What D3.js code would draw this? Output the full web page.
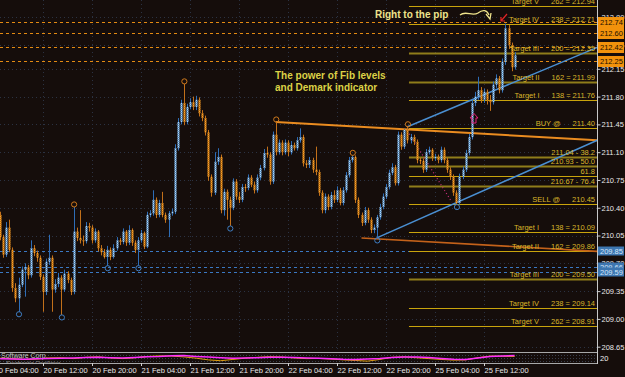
<!DOCTYPE html>
<html><head><meta charset="utf-8">
<script src="https://cdn.jsdelivr.net/npm/d3@7"></script>
<style>
html,body{margin:0;padding:0;background:#150d0b;overflow:hidden;}
svg{display:block;}
</style></head><body>
<svg id="c" width="625" height="377"></svg>
<script>
// ---------------- DATA ----------------
const firstIndex = 2;          // bar index of first candle (30-min bars, 0 = 20 Feb 04:00)
const firstOpen = 210.31;
const closes = [
210.03,209.81,210.15,209.87,209.39,209.26,209.43,209.62,209.65,209.55,
209.89,209.83,209.77,209.53,209.34,209.72,209.77,209.37,209.44,209.52,
209.37,209.57,209.49,209.34,210.10,210.02,209.99,209.98,210.17,210.15,
209.99,210.10,209.89,209.84,209.78,209.87,209.78,209.89,209.99,209.97,
210.10,209.96,210.12,209.96,209.87,209.99,210.08,209.91,210.31,210.33,
210.50,210.31,210.46,210.31,210.25,210.33,210.35,211.15,211.48,211.72,
211.48,211.67,211.73,211.67,211.76,211.59,211.53,211.35,210.79,210.59,
210.98,211.04,210.37,210.60,210.50,210.40,210.73,210.54,210.50,210.66,
210.65,210.78,210.69,210.62,210.78,210.90,211.09,211.07,210.73,211.32,
211.10,211.22,211.10,211.22,211.10,211.19,211.15,211.25,211.29,210.96,
210.94,211.00,210.88,210.85,210.59,210.37,210.54,210.41,210.56,210.50,
210.62,210.46,210.62,210.81,211.00,211.04,210.50,210.31,210.21,210.37,
210.25,210.12,210.15,210.28,210.41,210.54,210.66,210.84,210.91,210.71,
211.32,211.17,211.38,211.25,211.29,211.23,211.00,210.99,210.88,211.10,
211.13,211.03,211.04,211.00,211.13,211.00,210.88,210.79,210.59,210.46,
210.79,210.88,211.09,211.29,211.72,211.80,211.88,211.76,211.86,211.76,
211.73,211.95,212.03,211.88,212.24,212.66,212.45,212.17,212.32];
const highs = [
210.35,210.06,210.22,210.25,209.90,209.45,209.52,209.66,209.70,209.68,
209.99,209.93,209.86,209.80,209.56,209.76,210.06,209.80,209.50,209.58,
209.55,209.62,209.60,209.52,210.41,210.15,210.37,210.05,210.22,210.21,
210.18,210.14,210.12,209.93,209.88,209.92,209.90,209.94,210.03,210.02,
210.14,210.12,210.18,210.14,209.99,210.03,210.12,210.10,210.35,210.37,
210.62,210.53,210.50,210.60,210.34,210.36,210.39,211.20,211.53,211.76,
211.96,211.71,211.78,211.80,211.81,211.79,211.63,211.56,211.38,210.82,
211.10,211.15,211.07,210.64,210.63,210.54,210.77,210.76,210.60,210.70,
210.70,210.82,210.81,210.73,210.82,210.94,211.14,211.17,211.10,211.36,
211.48,211.26,211.25,211.26,211.25,211.24,211.22,211.29,211.40,211.32,
211.00,211.04,211.03,211.17,210.88,210.62,210.58,210.57,210.60,210.62,
210.67,210.65,210.66,210.85,211.04,211.06,211.06,210.53,210.34,210.41,
210.40,210.28,210.19,210.31,210.45,210.58,210.70,210.88,210.96,210.94,
211.36,211.35,211.39,211.42,211.33,211.32,211.26,211.03,211.02,211.14,
211.17,211.15,211.08,211.07,211.17,211.16,211.03,210.91,210.82,210.62,
210.83,210.92,211.13,211.33,211.76,211.86,212.05,211.92,211.90,211.89,
211.82,211.99,212.08,212.06,212.28,212.72,212.70,212.48,212.36];
const lows = [
209.99,209.77,209.78,209.84,209.34,209.21,209.09,209.40,209.28,209.50,
209.52,209.79,209.72,209.49,209.09,209.30,209.68,209.09,209.33,209.40,
209.05,209.34,209.45,209.30,209.31,209.98,209.95,209.92,209.95,210.10,
209.95,209.96,209.85,209.80,209.76,209.67,209.74,209.76,209.86,209.93,
209.94,209.92,209.93,209.92,209.83,209.67,209.96,209.88,209.89,210.28,
210.30,210.27,210.28,210.28,210.21,210.03,210.30,210.32,211.12,211.45,
211.44,211.45,211.64,211.63,211.63,211.55,211.49,211.31,210.74,210.54,
210.56,210.94,210.33,210.30,210.25,210.17,210.37,210.50,210.46,210.47,
210.60,210.62,210.66,210.58,210.59,210.75,210.87,211.03,210.69,210.70,
211.06,211.07,211.06,211.07,211.05,211.07,211.12,211.12,211.22,210.92,
210.90,210.90,210.84,210.81,210.55,210.33,210.33,210.37,210.38,210.46,
210.47,210.43,210.43,210.59,210.78,210.97,210.46,210.27,210.17,210.18,
210.21,210.08,210.08,210.02,210.25,210.38,210.51,210.63,210.81,210.68,
210.68,211.13,211.14,211.21,211.21,211.19,210.96,210.95,210.84,210.85,
211.07,210.99,210.99,210.96,210.97,210.96,210.84,210.75,210.55,210.44,
210.44,210.76,210.85,211.06,211.26,211.68,211.76,211.72,211.72,211.70,
211.62,211.70,211.91,211.84,211.85,212.20,212.40,212.12,212.14];

// Demark points (bar indexes)
const demarkHighs = [26, 62, 92, 117, 135];
const demarkLows  = [8, 22, 37, 47, 77, 125, 151];

// Trend lines: [barIndex, price] pairs
const blueTrends   = [[[125, 210.02], [197, 211.25]], [[135, 211.42], [197, 212.42]]];
const orangeTrends = [[[92, 211.48], [197, 211.25]], [[120, 210.02], [197, 209.85]]];
const projection   = [[135, 211.37], [149.5, 210.47]];

// Fib / target levels
const fibStart  = 135.5;
const fibNames  = ["Target V","Target IV","Target III","Target II","Target I","BUY @","","","","","SELL @","Target I","Target II","Target III","Target IV","Target V"];
const fibTexts  = ["262 = 212.94","238 = 212.71","200 = 212.35","162 = 211.99","138 = 211.76","211.40","211.04 - 38.2","210.93 - 50.0","61.8","210.67 - 76.4","210.45","138 = 210.09","162 = 209.86","200 = 209.50","238 = 209.14","262 = 208.91"];
const fibPrices = [212.94,212.71,212.35,211.99,211.76,211.40,211.04,210.93,210.80,210.67,210.45,210.09,209.86,209.50,209.14,208.91];

// Horizontal price lines with right-side tags
const orangeLevels = [212.74, 212.60, 212.42, 212.25];
const blueLevels   = [209.85, 209.66, 209.59];

// Axis ticks
const yTicks = [212.80,212.45,212.15,211.80,211.45,211.10,210.75,210.40,210.05,209.70,209.35,209.00,208.65];
const xTickIdx = [0,16,32,48,64,80,96,112,128,144,160];
const xLabels = ["20 Feb 04:00","20 Feb 12:00","20 Feb 20:00","21 Feb 04:00","21 Feb 12:00","21 Feb 20:00","22 Feb 04:00","22 Feb 12:00","22 Feb 20:00","25 Feb 04:00","25 Feb 12:00"];

// Indicator subwindow (every 4 bars from bar 2)
const indStep = 4;
const indMain = [39,36,33,38,42,44,48,52,56,50,46,54,62,66,74,76,66,58,50,45,47,51,55,56,52,48,44,38,32,30,34,40,52,58,60,52,42,32,30,48,66,72,76];
const indSignal = [45,40,30,35,48,50,40,55,60,48,40,50,65,72,70,60,45,25,15,30,45,55,62,58,48,40,42,35,25,18,10,30,55,60,50,40,30,22,25,50,70,68,65];

// ---------------- DRAW ----------------
const svg = d3.select('#c');
const FONT = "'Liberation Sans', Arial, sans-serif";
const plotR = 597, mainBottom = 352, panelBottom = 363;
const x = d3.scaleLinear().domain([0,160]).range([-6,484]);
const y = d3.scaleLinear().domain([208.65,212.80]).range([346.7,17.2]);
const py = d3.scaleLinear().domain([0,100]).range([362,353.5]);

svg.append('rect').attr('width',625).attr('height',377).attr('fill','#150d0b');

const defs = svg.append('defs');
function checker(id, a, b){
  const p = defs.append('pattern').attr('id',id).attr('patternUnits','userSpaceOnUse').attr('width',2).attr('height',2);
  p.append('rect').attr('width',2).attr('height',2).attr('fill',a);
  p.append('rect').attr('width',1).attr('height',1).attr('fill',b);
  p.append('rect').attr('x',1).attr('y',1).attr('width',1).attr('height',1).attr('fill',b);
}
checker('bull','#4f8fcf','#b4d8f4');
checker('bear','#c86e12','#f7a72a');
defs.append('clipPath').attr('id','main').append('rect').attr('x',0).attr('y',0).attr('width',plotR).attr('height',mainBottom);
defs.append('clipPath').attr('id','panel').append('rect').attr('x',0).attr('y',mainBottom).attr('width',plotR).attr('height',panelBottom-mainBottom);

// grid
const grid = svg.append('g').attr('stroke','#2b3242').attr('stroke-dasharray','1,3').attr('stroke-width',1);
yTicks.forEach(t=>grid.append('line').attr('x1',0).attr('x2',plotR).attr('y1',Math.round(y(t))+0.5).attr('y2',Math.round(y(t))+0.5));
xTickIdx.forEach(t=>grid.append('line').attr('x1',Math.round(x(t))+0.5).attr('x2',Math.round(x(t))+0.5).attr('y1',0).attr('y2',mainBottom));

const main = svg.append('g').attr('clip-path','url(#main)');

// horizontal dashed price lines
orangeLevels.forEach(p=>main.append('line').attr('x1',0).attr('x2',plotR).attr('y1',Math.round(y(p))+0.5).attr('y2',Math.round(y(p))+0.5)
  .attr('stroke','#e38a12').attr('stroke-dasharray','3,3'));
blueLevels.forEach(p=>main.append('line').attr('x1',0).attr('x2',plotR).attr('y1',Math.round(y(p))+0.5).attr('y2',Math.round(y(p))+0.5)
  .attr('stroke','#3a78c2').attr('stroke-dasharray','3,3'));

// fib lines
const heavy = new Set([2,3,6,7,9,13]);
fibPrices.forEach((p,k)=>{
  main.append('line').attr('x1',x(fibStart)).attr('x2',plotR)
    .attr('y1',Math.round(y(p))+0.5).attr('y2',Math.round(y(p))+0.5)
    .attr('stroke', heavy.has(k)?'#8f7d1a':'#c9a40c').attr('stroke-width', heavy.has(k)?2:1);
});

// trend lines
orangeTrends.forEach((l,k)=>main.append('line')
  .attr('x1',x(l[0][0])).attr('y1',y(l[0][1])).attr('x2',x(l[1][0])).attr('y2',y(l[1][1]))
  .attr('stroke', k===0?'#ea8c20':'#c4621a').attr('stroke-width', k===0?2:1.6));
blueTrends.forEach(l=>main.append('line')
  .attr('x1',x(l[0][0])).attr('y1',y(l[0][1])).attr('x2',x(l[1][0])).attr('y2',y(l[1][1]))
  .attr('stroke','#4a8fd2').attr('stroke-width',1.5));
main.append('line').attr('x1',x(projection[0][0])).attr('y1',y(projection[0][1]))
  .attr('x2',x(projection[1][0])).attr('y2',y(projection[1][1]))
  .attr('stroke','#c8307c').attr('stroke-width',1.2).attr('stroke-dasharray','1,2.5');

// candles
const bars = closes.map((c,k)=>({i:firstIndex+k, o: k===0?firstOpen:closes[k-1], c, h:highs[k], l:lows[k]}));
const cg = main.append('g');
bars.forEach(b=>{
  const up = b.c >= b.o;
  const cx = Math.round(x(b.i));
  cg.append('line').attr('x1',cx+0.5).attr('x2',cx+0.5).attr('y1',y(b.h)).attr('y2',y(b.l))
    .attr('stroke', up?'#2e6db6':'#c2701a').attr('stroke-width',1);
  const top = y(Math.max(b.o,b.c)), bot = y(Math.min(b.o,b.c));
  cg.append('rect').attr('x',cx-0.5).attr('y',top).attr('width',2).attr('height',Math.max(1,bot-top))
    .attr('fill', up?'url(#bull)':'url(#bear)');
});

// demark circles
const byIdx = new Map(bars.map(b=>[b.i,b]));
demarkHighs.forEach(i=>{const b=byIdx.get(i); main.append('circle').attr('cx',x(i)+0.5).attr('cy',y(b.h)-2.5).attr('r',2.6)
  .attr('fill','none').attr('stroke','#d07a1c').attr('stroke-width',1);});
demarkLows.forEach(i=>{const b=byIdx.get(i); main.append('circle').attr('cx',x(i)+0.5).attr('cy',y(b.l)+2.5).attr('r',2.6)
  .attr('fill','none').attr('stroke','#3e7ec4').attr('stroke-width',1);});

// fib labels
const lab = main.append('g').attr('font-family',FONT).attr('font-size',7.5).attr('fill','#d9b52a');
fibPrices.forEach((p,k)=>{
  const by = Math.round(y(p)) - 2;
  const t = lab.append('text').attr('x',595).attr('y',by).attr('text-anchor','end').text(fibTexts[k]);
  const w = t.node().getComputedTextLength();
  if (fibNames[k]) lab.append('text').attr('x',595-w-12).attr('y',by).attr('text-anchor','end').text(fibNames[k]);
});

// annotations
const ann = svg.append('g').attr('font-family',FONT).attr('font-weight','bold').attr('font-size',10);
ann.append('text').attr('x',375).attr('y',18).attr('fill','#efe48c').text('Right to the pip');
ann.append('text').attr('x',275).attr('y',79).attr('fill','#dcd246').text('The power of Fib levels');
ann.append('text').attr('x',275).attr('y',91).attr('fill','#dcd246').text('and Demark indicator');
svg.append('path').attr('d','M460,15 C466,10 472,17 478,13 C483,9 487,10 489,15')
  .attr('fill','none').attr('stroke','#efe48c').attr('stroke-width',1.3);
svg.append('path').attr('d','M486,14 L490,19 L491,13').attr('fill','none').attr('stroke','#efe48c').attr('stroke-width',1.3);
svg.append('path').attr('d','M507,14 L501,21 M501,17 L501,21 L505,21').attr('fill','none').attr('stroke','#e02424').attr('stroke-width',1.2);
svg.append('path').attr('d','M474,113.5 L478,118 L476,118 L476,123 L472,123 L472,118 L470,118 Z')
  .attr('fill','none').attr('stroke','#e0207c').attr('stroke-width',1);

// indicator panel
const pg = svg.append('g');
pg.append('g').attr('stroke','#3a3f4c').attr('stroke-dasharray','1,2')
  .selectAll('line').data([355.5,358.5,361.5]).join('line').attr('x1',0).attr('x2',plotR).attr('y1',d=>d).attr('y2',d=>d);
const pc = pg.append('g').attr('clip-path','url(#panel)');
pc.append('text').attr('x',1).attr('y',358).attr('font-family',FONT).attr('font-size',7).attr('fill','#c4c4c4').text('Software Corp.');
pc.append('text').attr('x',6).attr('y',364.5).attr('font-family',FONT).attr('font-size',6).attr('fill','#9a9a9a').text('Stochastic Oscillator');
const ind = d3.line().x((d,k)=>x(firstIndex+k*indStep)).y(d=>py(d)).curve(d3.curveLinear);
pc.append('path').attr('d',ind(indSignal)).attr('fill','none').attr('stroke','#e0a012').attr('stroke-width',1);
pc.append('path').attr('d',ind(indMain)).attr('fill','none').attr('stroke','#ff2cff').attr('stroke-width',1.5);
pg.append('line').attr('x1',0).attr('x2',plotR).attr('y1',mainBottom+0.5).attr('y2',mainBottom+0.5).attr('stroke','#a8a8a8');
pg.append('line').attr('x1',0).attr('x2',plotR).attr('y1',panelBottom+0.5).attr('y2',panelBottom+0.5).attr('stroke','#a8a8a8');

// right axis
svg.append('line').attr('x1',plotR+0.5).attr('x2',plotR+0.5).attr('y1',0).attr('y2',panelBottom+1).attr('stroke','#c8c8c8');
const gy = svg.append('g').attr('transform',`translate(${plotR+0.5},0)`)
  .call(d3.axisRight(y).tickValues(yTicks).tickFormat(d3.format('.2f')).tickSize(3).tickSizeOuter(0).tickPadding(1));
gy.attr('font-family',FONT).attr('font-size',7.5);
gy.select('.domain').remove();
gy.selectAll('line').attr('stroke','#d0d0d0');
gy.selectAll('text').attr('fill','#e8e8e8');
svg.append('text').attr('x',600).attr('y',361).attr('font-family',FONT).attr('font-size',7.5).attr('fill','#f0f0f0').text('20');

// price tags
const tags = svg.append('g').attr('font-family',FONT).attr('font-size',7.5);
orangeLevels.forEach(p=>{
  const cy = Math.round(y(p));
  tags.append('rect').attr('x',598).attr('y',cy-5).attr('width',26).attr('height',11).attr('fill','#f2920c');
  tags.append('text').attr('x',600).attr('y',cy+3).attr('fill','#1a1000').text(p.toFixed(2));
});
blueLevels.forEach(p=>{
  const cy = Math.round(y(p));
  tags.append('rect').attr('x',598).attr('y',cy-4.5).attr('width',26).attr('height',9).attr('fill','#3d76b0');
  tags.append('text').attr('x',600).attr('y',cy+3).attr('fill','#d4e6fa').text(p.toFixed(2));
});

// bottom axis
const gx = svg.append('g').attr('transform',`translate(0,${panelBottom})`)
  .call(d3.axisBottom(x).tickValues(xTickIdx).tickFormat((d,k)=>xLabels[k]).tickSize(3).tickSizeOuter(0).tickPadding(2));
gx.attr('font-family',FONT).attr('font-size',7.5);
gx.select('.domain').remove();
gx.selectAll('line').attr('stroke','#d0d0d0');
gx.selectAll('text').attr('fill','#e8e8e8').attr('text-anchor','start');
</script>
</body></html>
